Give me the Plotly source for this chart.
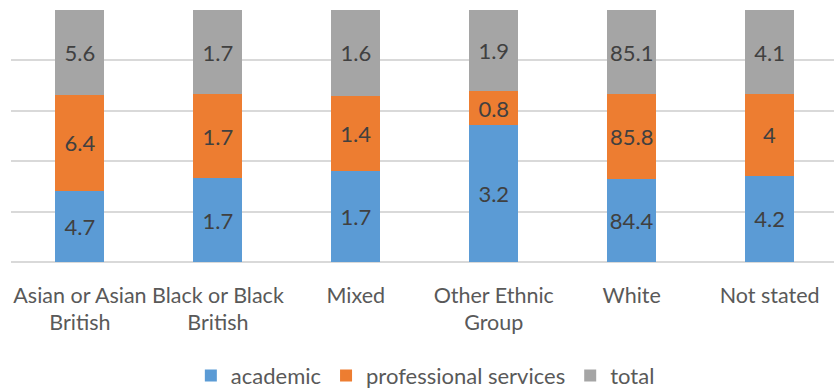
import plotly.graph_objects as go

categories = ["Asian or Asian<br>British", "Black or Black<br>British", "Mixed",
              "Other Ethnic<br>Group", "White", "Not stated"]
academic = [4.7, 1.7, 1.7, 3.2, 84.4, 4.2]
professional = [6.4, 1.7, 1.4, 0.8, 85.8, 4]
total = [5.6, 1.7, 1.6, 1.9, 85.1, 4.1]

series = [("academic", academic, "#5b9bd5"),
          ("professional services", professional, "#ed7d31"),
          ("total", total, "#a5a5a5")]

FONT = "Lato"
fig = go.Figure()
for name, vals, col in series:
    fig.add_trace(go.Bar(
        x=list(range(len(categories))), y=vals, name=name,
        marker=dict(color=col, line=dict(width=0)),
        text=[f"{v:g}" for v in vals], texttemplate="%{text}",
        textposition="inside", insidetextanchor="middle", textangle=0,
        textfont=dict(family=FONT, size=22, color="#404040"),
        width=0.355,
    ))

fig.update_layout(
    barmode="stack", barnorm="percent",
    width=834, height=389,
    margin=dict(l=11, r=0, t=10, b=127, autoexpand=False),
    plot_bgcolor="white", paper_bgcolor="white",
    font=dict(family=FONT, size=22, color="#595959"),
    uniformtext=dict(minsize=22, mode="show"),
    showlegend=True,
    legend=dict(orientation="h", xref="container", x=0.51, xanchor="center",
                yref="container", y=0.034, yanchor="middle",
                font=dict(family=FONT, size=22, color="#595959"),
                traceorder="normal"),
    xaxis=dict(range=[-0.5, 5.467], tickmode="array",
               tickvals=list(range(len(categories))), ticktext=categories,
               showgrid=False, showline=False, ticks="", automargin=False,
               tickangle=0, ticklabelstandoff=18,
               tickfont=dict(family=FONT, size=21.5, color="#595959"), fixedrange=True),
    yaxis=dict(range=[0, 100], dtick=20, showgrid=True, gridcolor="#d9d9d9", gridwidth=1.5,
               zeroline=True, zerolinecolor="#d9d9d9", zerolinewidth=1.5,
               showticklabels=False, automargin=False, fixedrange=True),
)
fig.write_html("out.html")
